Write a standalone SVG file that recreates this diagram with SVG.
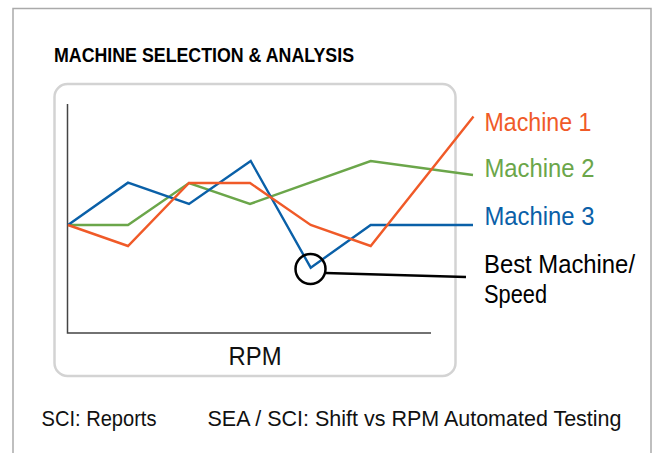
<svg xmlns="http://www.w3.org/2000/svg" width="657" height="453" viewBox="0 0 657 453">
<style>
  text { font-family: "Liberation Sans", Arial, sans-serif; }
  .title { font-size: 20.5px; font-weight: bold; fill: #000; }
  .lbl { font-size: 26px; }
  .foot { font-size: 22px; fill: #111; }
  .series { fill: none; stroke-width: 2.4; stroke-linejoin: miter; }
  .m1 { stroke: #F05A28; }
  .m2 { stroke: #6BA64A; }
  .m3 { stroke: #0A60A8; }
</style>
<rect x="0" y="0" width="657" height="453" fill="#fff"/>
<g id="frame">
  <path d="M13,460 V8.5 H651 V460" fill="none" stroke="#aaaaaa" stroke-width="1.5"/>
</g>
<g id="title">
  <text class="title" x="54" y="61.5" textLength="300" lengthAdjust="spacingAndGlyphs">MACHINE SELECTION &amp; ANALYSIS</text>
</g>
<g id="chart">
  <rect x="54.5" y="84" width="401" height="292" rx="13" ry="13" fill="#fff" stroke="#d3d3d3" stroke-width="2.5"/>
  <path d="M67.5,104 V333 H431" fill="none" stroke="#444" stroke-width="1.5"/>
  <text x="255" y="365" font-size="25" text-anchor="middle" textLength="53" lengthAdjust="spacingAndGlyphs" fill="#111">RPM</text>
</g>
<g id="series">
  <polyline id="machine2-line" class="series m2" points="68,225 128,225 189,183 250,204 370.7,161 473,175"/>
  <polyline id="machine3-line" class="series m3" points="68,225 128,182.7 189,204 250.7,161 310.7,267.7 370.7,225 473,225"/>
  <polyline id="machine1-line" class="series m1" points="68,225 128,246 189,183 250,183 310.7,225 370.7,246 473.5,116.5"/>
</g>
<g id="best-marker">
  <circle cx="310.5" cy="269" r="15" fill="none" stroke="#000" stroke-width="2.5"/>
</g>
<g id="connectors">
  <line x1="325.5" y1="273" x2="466" y2="277" stroke="#000" stroke-width="2.5"/>
</g>
<g id="label-machine1">
  <text class="lbl" x="484.5" y="131" fill="#F05A28" textLength="107" lengthAdjust="spacingAndGlyphs">Machine 1</text>
</g>
<g id="label-machine2">
  <text class="lbl" x="484.5" y="177" fill="#6BA64A" textLength="110" lengthAdjust="spacingAndGlyphs">Machine 2</text>
</g>
<g id="label-machine3">
  <text class="lbl" x="484.5" y="224.5" fill="#0A60A8" textLength="110" lengthAdjust="spacingAndGlyphs">Machine 3</text>
</g>
<g id="label-best">
  <text class="lbl" x="484" y="273" fill="#000" textLength="151" lengthAdjust="spacingAndGlyphs">Best Machine/</text>
  <text class="lbl" x="484" y="303" fill="#000" textLength="63" lengthAdjust="spacingAndGlyphs">Speed</text>
</g>
<g id="footer">
  <text class="foot" x="41.5" y="426" textLength="115" lengthAdjust="spacingAndGlyphs">SCI: Reports</text>
  <text class="foot" x="207.5" y="426" textLength="414" lengthAdjust="spacingAndGlyphs">SEA / SCI: Shift vs RPM Automated Testing</text>
</g>
</svg>
